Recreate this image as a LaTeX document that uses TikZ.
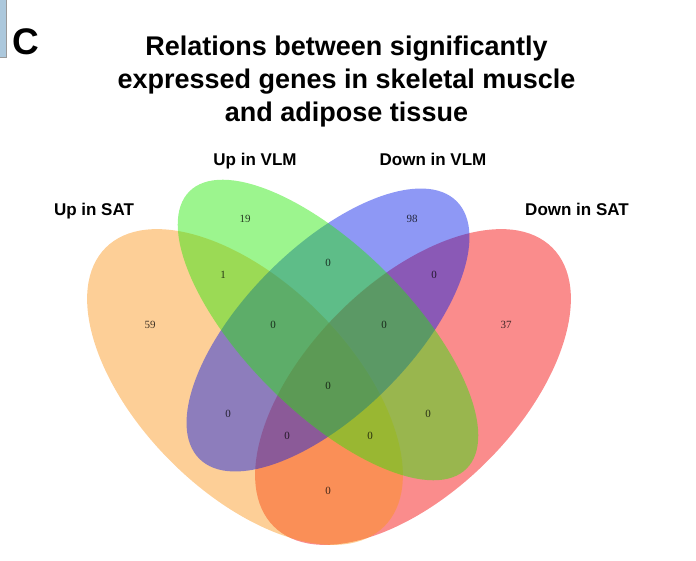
\documentclass[tikz,border=0pt]{standalone}
\usepackage{fontspec}
\setmainfont{Liberation Sans}
\newfontfamily\vennnum{Liberation Serif}
\definecolor{satup}{RGB}{251,148,24}
\definecolor{satdown}{RGB}{244,0,0}
\definecolor{vlmup}{RGB}{36,233,4}
\definecolor{vlmdown}{RGB}{4,27,233}
\definecolor{tabblue}{RGB}{172,200,220}
\tikzset{
  vennset/.style={fill opacity=0.45},
  setlabel/.style={font=\bfseries\fontsize{17}{20}\selectfont, anchor=base, inner sep=0},
  count/.style={font=\vennnum\fontsize{11}{13}\selectfont, text opacity=0.75, inner sep=0}
}

\begin{document}
\begin{tikzpicture}[x=1pt,y=1pt]
    \useasboundingbox (0,0) rectangle (696,560);
    \filldraw[fill=tabblue, draw=gray!80] (-2,562) rectangle (6,503);
    \node[anchor=base west, inner sep=0, font=\bfseries\fontsize{37}{40}\selectfont] (panel) at (12,505) {C};
    \node[anchor=base, inner sep=0, align=center, font=\bfseries\fontsize{27}{33}\selectfont] (title) at (346.5,438.5)
        {Relations between significantly\\expressed genes in skeletal muscle\\and adipose tissue};

    \fill[vennset, satdown, rotate around={45:(413,173)}] (413,173) ellipse (197pt and 105pt);
    \fill[vennset, satup, rotate around={-45:(245,173)}] (245,173) ellipse (197pt and 105pt);
    \fill[vennset, vlmdown, rotate around={45:(328,230)}] (328,230) ellipse (182pt and 83pt);
    \fill[vennset, vlmup, rotate around={-45:(328,230)}] (328,230) ellipse (196pt and 82pt);

    \node[setlabel] (upsat) at (94,344) {Up in SAT};
    \node[setlabel] (upvlm) at (255,394.3) {Up in VLM};
    \node[setlabel] (downvlm) at (433,394.3) {Down in VLM};
    \node[setlabel] (downsat) at (577,344) {Down in SAT};

    \node[count] (a) at (150,235) {59};
    \node[count] (b) at (245,341) {19};
    \node[count] (c) at (412,341) {98};
    \node[count] (d) at (506,235) {37};
    \node[count] (ab) at (223,285) {1};
    \node[count] (bc) at (328,297) {0};
    \node[count] (cd) at (434,285) {0};
    \node[count] (abc) at (273,235) {0};
    \node[count] (bcd) at (384,235) {0};
    \node[count] (abcd) at (328,174) {0};
    \node[count] (ac) at (228,146) {0};
    \node[count] (bd) at (428,146) {0};
    \node[count] (acd) at (287,124) {0};
    \node[count] (abd) at (370,124) {0};
    \node[count] (ad) at (328,69) {0};
\end{tikzpicture}
\end{document}
